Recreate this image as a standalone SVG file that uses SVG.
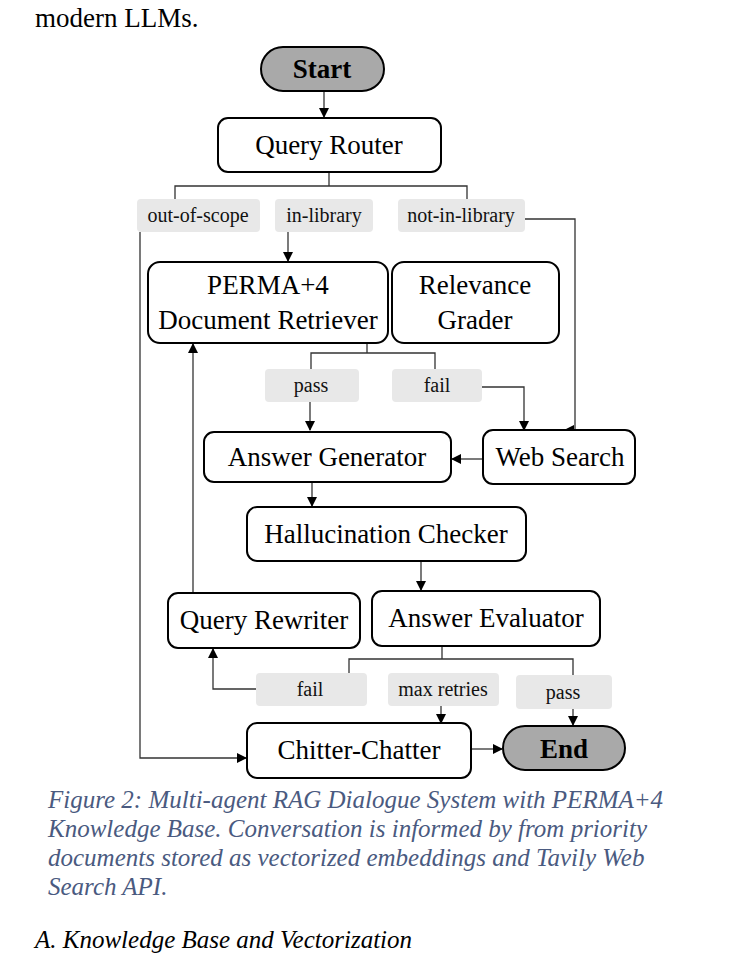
<svg xmlns="http://www.w3.org/2000/svg" width="747" height="953" viewBox="0 0 747 953">
<style>
.n{fill:#fff;stroke:#000;stroke-width:2}
.t{fill:#a9a9a9;stroke:#000;stroke-width:2}
.tx{font-family:"Liberation Serif","Times New Roman",serif;font-size:27px;text-anchor:middle;fill:#000}
.b{font-weight:bold}
.l{fill:#e8e8e8}
.lt{font-family:"Liberation Serif","Times New Roman",serif;font-size:20px;text-anchor:middle;fill:#111}
.c{fill:none;stroke:#333;stroke-width:1.3}
.cap{font-family:"Liberation Serif","Times New Roman",serif;font-size:25px;font-style:italic;fill:#4a5a80}
</style>
<defs><marker id="a" markerWidth="10" markerHeight="10" refX="9" refY="5" orient="auto" markerUnits="userSpaceOnUse"><path d="M0,0L10,5L0,10z" fill="#000"/></marker></defs>
<rect width="747" height="953" fill="#fff"/>
<text x="35" y="27" font-family="'Liberation Serif',serif" font-size="27">modern LLMs.</text>
<g id="labels">
<rect class="l" x="137" y="199" width="123" height="33" rx="4"/><text class="lt" x="198" y="222">out-of-scope</text>
<rect class="l" x="275" y="199" width="98" height="33" rx="4"/><text class="lt" x="324" y="222">in-library</text>
<rect class="l" x="398" y="199" width="127" height="33" rx="4"/><text class="lt" x="461" y="222">not-in-library</text>
<rect class="l" x="265" y="369" width="94" height="33" rx="4"/><text class="lt" x="311" y="392">pass</text>
<rect class="l" x="392" y="369" width="90" height="33" rx="4"/><text class="lt" x="437" y="392">fail</text>
<rect class="l" x="256" y="673" width="111" height="33" rx="4"/><text class="lt" x="310" y="696">fail</text>
<rect class="l" x="388" y="673" width="111" height="33" rx="4"/><text class="lt" x="443" y="696">max retries</text>
<rect class="l" x="516" y="675" width="96" height="34" rx="4"/><text class="lt" x="563" y="699">pass</text>
</g>
<g id="connectors">
<path class="c" d="M324,91V117" marker-end="url(#a)"/>
<path class="c" d="M329,172V186M175,199V186H467V199"/>
<path class="c" d="M525,219H575V430H565" marker-end="url(#a)"/>
<path class="c" d="M140,232V758H246" marker-end="url(#a)"/>
<path class="c" d="M288,232V261" marker-end="url(#a)"/>
<path class="c" d="M367,343V353M311,369V353H435V369"/>
<path class="c" d="M310,402V430" marker-end="url(#a)"/>
<path class="c" d="M482,387H524V430" marker-end="url(#a)"/>
<path class="c" d="M483,459H452" marker-end="url(#a)"/>
<path class="c" d="M312,482V506" marker-end="url(#a)"/>
<path class="c" d="M421,561V590" marker-end="url(#a)"/>
<path class="c" d="M193,593V344" marker-end="url(#a)"/>
<path class="c" d="M442,646V659M349,673V659H573V675"/>
<path class="c" d="M256,689H213V649" marker-end="url(#a)"/>
<path class="c" d="M441,706V723" marker-end="url(#a)"/>
<path class="c" d="M573,709V725" marker-end="url(#a)"/>
<path class="c" d="M471,749H502" marker-end="url(#a)"/>
</g>
<g id="start"><rect class="t" x="261" y="47" width="123" height="44" rx="22"/><text class="tx b" x="322" y="78">Start</text></g>
<g id="router"><rect class="n" x="218" y="118" width="223" height="54" rx="10"/><text class="tx" x="329" y="154">Query Router</text></g>
<g id="retriever"><rect class="n" x="148" y="262" width="240" height="81" rx="12"/><text class="tx" x="268" y="294">PERMA+4</text><text class="tx" x="268" y="329">Document Retriever</text></g>
<g id="grader"><rect class="n" x="392" y="262" width="167" height="81" rx="12"/><text class="tx" x="475" y="294">Relevance</text><text class="tx" x="475" y="329">Grader</text></g>
<g id="generator"><rect class="n" x="204" y="432" width="247" height="50" rx="10"/><text class="tx" x="327" y="466">Answer Generator</text></g>
<g id="websearch"><rect class="n" x="483" y="430" width="152" height="54" rx="10"/><text class="tx" x="560" y="466">Web Search</text></g>
<g id="checker"><rect class="n" x="247" y="507" width="279" height="54" rx="10"/><text class="tx" x="386" y="543">Hallucination Checker</text></g>
<g id="rewriter"><rect class="n" x="168" y="593" width="192" height="55" rx="10"/><text class="tx" x="264" y="629">Query Rewriter</text></g>
<g id="evaluator"><rect class="n" x="372" y="591" width="228" height="55" rx="10"/><text class="tx" x="486" y="627">Answer Evaluator</text></g>
<g id="chitter"><rect class="n" x="247" y="723" width="224" height="55" rx="10"/><text class="tx" x="359" y="759">Chitter-Chatter</text></g>
<g id="end"><rect class="t" x="503" y="726" width="122" height="44" rx="22"/><text class="tx b" x="564" y="758">End</text></g>
<text class="cap" x="48" y="808">Figure 2: Multi-agent RAG Dialogue System with PERMA+4</text>
<text class="cap" x="48" y="837">Knowledge Base. Conversation is informed by from priority</text>
<text class="cap" x="48" y="866">documents stored as vectorized embeddings and Tavily Web</text>
<text class="cap" x="48" y="895">Search API.</text>
<text x="35" y="948" font-family="'Liberation Serif',serif" font-size="25" font-style="italic">A. Knowledge Base and Vectorization</text>
</svg>
